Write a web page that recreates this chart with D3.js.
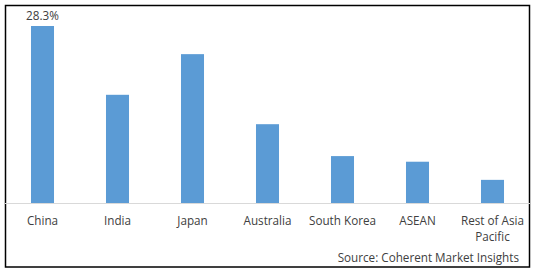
<!DOCTYPE html>
<html><head><meta charset="utf-8">
<script src="https://cdn.jsdelivr.net/npm/d3@7"></script>
<style>body{margin:0;background:#fff}</style>
</head><body>
<script>
const categories = ["China","India","Japan","Australia","South Korea","ASEAN","Rest of Asia Pacific"];
const values = [28.3,17.3,23.8,12.6,7.5,6.6,3.7];
const valueLabels = ["28.3%","","","","","",""];
const sourceText = "Source: Coherent Market Insights";

const W=538,H=272;
const svg=d3.select("body").append("svg").attr("width",W).attr("height",H);
svg.append("rect").attr("width",W).attr("height",H).attr("fill","#fff");
svg.append("rect").attr("x",5.5).attr("y",5.5).attr("width",524).attr("height",261.5)
  .attr("fill","none").attr("stroke","#000").attr("stroke-width",1.5);

const x=d3.scaleBand().domain(categories).range([5,530]).paddingInner(0.693).paddingOuter(0.3465);
const y=d3.scaleLinear().domain([0,28.3]).range([203,26]);

svg.selectAll("rect.bar").data(categories).enter().append("rect").attr("class","bar")
  .attr("x",d=>x(d)).attr("width",x.bandwidth())
  .attr("y",(d,i)=>y(values[i])).attr("height",(d,i)=>y(0)-y(values[i]))
  .attr("fill","#5b9bd5");

svg.append("line").attr("x1",5).attr("x2",530).attr("y1",203.5).attr("y2",203.5)
  .attr("stroke","#d9d9d9").attr("stroke-width",1);

const font="'Open Sans', 'DejaVu Sans', sans-serif";
const fs=11.7;
svg.selectAll("text.vl").data(categories).enter().append("text").attr("class","vl")
  .attr("x",d=>x(d)+x.bandwidth()/2).attr("y",(d,i)=>y(values[i])-6)
  .attr("text-anchor","middle").attr("font-family",font).attr("font-size",fs).attr("fill","#404040")
  .text((d,i)=>valueLabels[i]);

const lines = {"Rest of Asia Pacific":["Rest of Asia","Pacific"]};
const lab=svg.selectAll("text.cat").data(categories).enter().append("text").attr("class","cat")
  .attr("text-anchor","middle").attr("font-family",font).attr("font-size",fs).attr("fill","#404040");
lab.each(function(d){
  const t=d3.select(this); const ls=lines[d]||[d];
  ls.forEach((l,j)=>t.append("tspan").attr("x",x(d)+x.bandwidth()/2).attr("y",225+j*15.5).text(l));
});

svg.append("text").attr("x",519).attr("y",262).attr("text-anchor","end")
  .attr("font-family",font).attr("font-size",fs).attr("fill","#404040").text(sourceText);
</script>
</body></html>
